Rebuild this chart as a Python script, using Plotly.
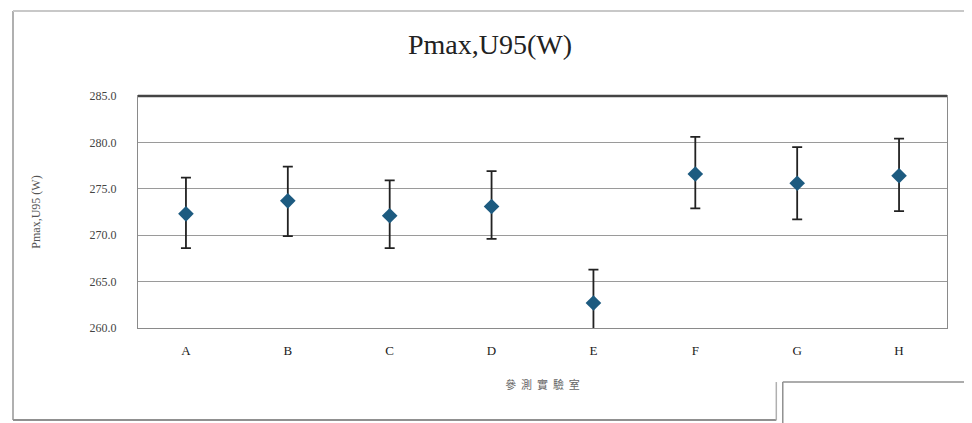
import plotly.graph_objects as go

labs = ["A", "B", "C", "D", "E", "F", "G", "H"]
pmax = [272.3, 273.7, 272.1, 273.1, 262.7, 276.6, 275.6, 276.4]
upper = [276.2, 277.4, 275.9, 276.9, 266.3, 280.6, 279.5, 280.4]
lower = [268.6, 269.9, 268.6, 269.6, 259.0, 272.9, 271.7, 272.6]

err_plus = [u - p for u, p in zip(upper, pmax)]
err_minus = [p - l for p, l in zip(pmax, lower)]

serif = "Liberation Serif, Times New Roman, serif"

fig = go.Figure()
fig.add_trace(go.Scatter(
    x=labs, y=pmax, mode="markers",
    marker=dict(symbol="diamond", size=12, color="#1d5b80"),
    error_y=dict(type="data", symmetric=False, array=err_plus, arrayminus=err_minus,
                 color="#222222", thickness=1.8, width=5),
    showlegend=False,
))

fig.update_layout(
    width=964, height=415,
    margin=dict(l=130, r=25, t=88, b=95),
    paper_bgcolor="white", plot_bgcolor="white",
    title=dict(text="Pmax,U95(W)", x=0.5, xanchor="center", y=0.912, yanchor="middle",
               font=dict(family=serif, size=28, color="#222222")),
    xaxis=dict(
        showgrid=False, showline=True, linecolor="#8a8a8a", linewidth=1.2, mirror=True,
        ticks="", ticklabelstandoff=10,
        tickfont=dict(family=serif, size=13, color="#1a1a1a"),
        title=dict(text="參  測  實  驗  室", standoff=24,
                   font=dict(family="Noto Sans CJK TC, serif", size=11, color="#666666")),
    ),
    yaxis=dict(
        range=[260, 285], dtick=5, tick0=260, tickformat=".1f",
        showgrid=True, gridcolor="#9a9a9a", gridwidth=1.2,
        showline=True, linecolor="#8a8a8a", linewidth=1.2, mirror=True,
        ticks="", ticklabelstandoff=18,
        tickfont=dict(family=serif, size=12, color="#444444"),
        title=dict(text="Pmax,U95 (W)", standoff=46,
                   font=dict(family=serif, size=12, color="#555555")),
    ),
    shapes=[
        # heavier top frame line of plot area
        dict(type="line", xref="x domain", yref="y domain", x0=0, x1=1, y0=1, y1=1,
             line=dict(color="#444444", width=2.5)),
        # outer chart border
        dict(type="line", xref="paper", yref="paper", x0=-0.1545, x1=-0.1545, y0=1.366, y1=-0.397,
             line=dict(color="#b0b0b0", width=2)),
        dict(type="line", xref="paper", yref="paper", x0=-0.1545, x1=1.03, y0=1.366, y1=1.366,
             line=dict(color="#c8c8c8", width=2)),
        dict(type="line", xref="paper", yref="paper", x0=1.025, x1=1.025, y0=1.366, y1=-0.233,
             line=dict(color="#e4e4e4", width=1.5)),
        dict(type="line", xref="paper", yref="paper", x0=-0.1545, x1=0.789, y0=-0.397, y1=-0.397,
             line=dict(color="#909090", width=2)),
        dict(type="line", xref="paper", yref="paper", x0=0.789, x1=0.789, y0=-0.397, y1=-0.233,
             line=dict(color="#b0b0b0", width=1.5)),
        dict(type="line", xref="paper", yref="paper", x0=0.797, x1=0.797, y0=-0.41, y1=-0.233,
             line=dict(color="#909090", width=1.5)),
        dict(type="line", xref="paper", yref="paper", x0=0.797, x1=1.04, y0=-0.233, y1=-0.233,
             line=dict(color="#909090", width=1.5)),
    ],
)

fig.write_html("out.html")
